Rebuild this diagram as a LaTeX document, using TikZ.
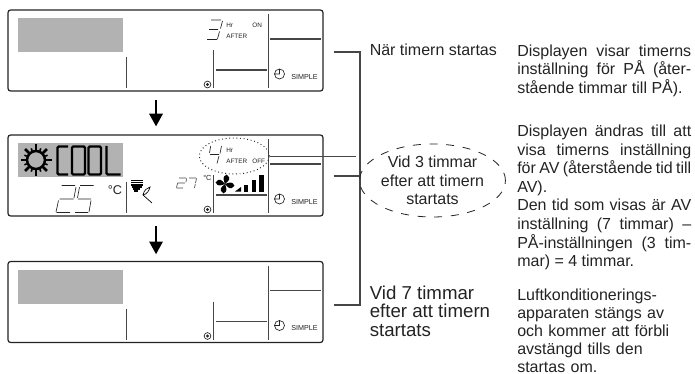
\documentclass[tikz,border=0pt]{standalone}
\usepackage{fontspec}
\setmainfont{Liberation Sans}
\usetikzlibrary{arrows.meta,positioning,calc,shapes.geometric}
\definecolor{TextoOscuro}{RGB}{35,35,35}
\definecolor{LineaPanel}{RGB}{70,70,70}
\definecolor{GrisPantalla}{RGB}{178,178,178}

\begin{document}
\begin{tikzpicture}[x=0.75pt,y=-0.75pt,
    panel/.style={draw=TextoOscuro, rounded corners=2pt, line width=0.9pt, minimum width=236.25pt,
      minimum height=60.75pt, inner sep=0pt},
    bar/.style={draw=LineaPanel, line width=0.8pt},
    seg/.style={draw=TextoOscuro, line width=0.5pt},
    lcd/.style={inner sep=0pt, anchor=west, text=TextoOscuro},
    lead/.style={inner sep=0pt, anchor=west, align=left, text=TextoOscuro, font=\fontsize{14}{13.6}\selectfont},
    note/.style={inner sep=0pt, anchor=north west, text width=130.5pt, align=justify, text=TextoOscuro,
      font=\fontsize{12}{13.9}\selectfont},
    wire/.style={draw=LineaPanel, line width=0.9pt},
    drop/.style={draw=black, line width=1.6pt, -{Triangle[length=9.5pt,width=10pt]}}
  ]
    \useasboundingbox (0,0) rectangle (695,374);

    % the three panels
    \foreach \p/\y in {1/0,2/125,3/251.5}{
      \begin{scope}[shift={(0,\y)}]
        \node[panel] (p\p) at (165.5,50.5) {};
        \fill[GrisPantalla] (18,18) rectangle (123,52);
        \draw[bar] (126.5,57) -- (126.5,88);
        \draw[bar] (213.5,50) -- (213.5,88);
        \draw[bar] (268.5,14) -- (268.5,88);
        \draw[bar] (216,70) -- (267,70);
        \draw[bar] (270,39) -- (321,39);
        \draw[draw=TextoOscuro, line width=0.5pt] (279.5,74) circle (5) (279.5,69.5) -- (279.5,74) -- (275,74);
        \node[lcd, font=\fontsize{5.4}{6}\selectfont] (simple\p) at (291,77) {SIMPLE};
        \draw[draw=TextoOscuro, line width=0.5pt] (207.5,84.5) circle (3.4);
        \fill[TextoOscuro] (207.5,84.5) circle (1.7);
      \end{scope}
    }

    % panel 1 timer
    \draw[seg] (211,20) -- (221,20) (209,29.5) -- (218,29.5) (207,39.5) -- (217,39.5)
      (222.5,21) -- (220.5,28.5) (219.5,31.5) -- (217.5,39);
    \node[lcd, font=\fontsize{4.8}{6}\selectfont] (hrA) at (226,25.5) {Hr};
    \node[lcd, font=\fontsize{4.8}{6}\selectfont] (onA) at (252,25.5) {ON};
    \node[lcd, font=\fontsize{4.8}{6}\selectfont] (afterA) at (226,36.5) {AFTER};

    % panel 2 timer
    \draw[seg] (210.7,146) -- (209.5,153) (210,154.5) -- (219,154.5)
      (221.5,146) -- (220,153.5) (219,156) -- (217,163.5);
    \node[lcd, font=\fontsize{4.8}{6}\selectfont] (hrB) at (226,150.5) {Hr};
    \node[lcd, font=\fontsize{4.8}{6}\selectfont] (afterB) at (226,161.5) {AFTER};
    \node[lcd, font=\fontsize{4.8}{6}\selectfont] (offB) at (252,161.5) {OFF};
    \node[ellipse, draw=TextoOscuro, dotted, line width=0.7pt, minimum width=52.5pt, minimum height=27pt,
      inner sep=0pt] (timerDot) at (234.3,156) {};

    % panel 2 mode
    \foreach \a in {0,45,...,315}{
      \draw[black, line width=2pt] ($(36,160)+(\a:10)$) -- ($(36,160)+(\a:15.5)$);
    }
    \foreach \a in {22.5,67.5,...,337.5}{
      \draw[black, line width=1.2pt] ($(36,160)+(\a:10)$) -- ($(36,160)+(\a:12.5)$);
    }
    \draw[black, line width=1.9pt] (36,160) circle (9);
    \draw[black, line width=1.7pt, rounded corners=1pt]
      (68,146.5) -- (57.5,146.5) -- (57.5,174.5) -- (68,174.5)
      (72,146.5) rectangle (85,174.5)
      (88.5,146.5) rectangle (101,174.5)
      (106.5,146) -- (106.5,174.5) -- (120.5,174.5);

    % panel 2 temperatures
    \draw[seg] (61.5,185.5) -- (75,185.5) (76,187) -- (74,198) (59.5,199) -- (73.5,199)
      (58.5,200.5) -- (56,212) (56.5,212.5) -- (70,212.5)
      (80,185.5) -- (93.5,185.5) (79.5,187) -- (77.5,198) (78,199) -- (91,199)
      (91,200.5) -- (89,212) (75,212.5) -- (88,212.5);
    \draw[seg, draw=LineaPanel] (179,178) -- (186,178) (186.5,178.5) -- (186,182) (177.5,183) -- (185,183)
      (177.5,183.5) -- (176.5,187.5) (176.5,188) -- (183,188)
      (189,178) -- (196,178) (196.5,178.5) -- (195.5,183) (195.3,184) -- (194.5,188);
    \node[lcd, font=\fontsize{9.5}{10}\selectfont] (degBig) at (107.5,190) {°C};
    \node[lcd, font=\fontsize{5.5}{6}\selectfont] (degSmall) at (203,178) {°C};

    % panel 2 vane and fan
    \draw[black, line width=0.9pt] (131,180.5) -- (143,180.5) (131,182.7) -- (143,182.7) (131,184.9) -- (143,184.9)
      (131.5,187) -- (142,187) (132.5,189) -- (140,189) (134,191) -- (138,191);
    \draw[black, line width=0.5pt] (143,195) .. controls (144,190) and (147,188) .. (150,187)
      .. controls (149,191) and (147,194) .. (143,195) -- (152,203);
    \foreach \a in {10,100,190,280}{
      \fill[black] (225,184) .. controls ($(225,184)+(\a-30:5)$) and ($(225,184)+(\a-30:8)$) .. ($(225,184)+(\a:9.5)$)
        .. controls ($(225,184)+(\a+40:9)$) and ($(225,184)+(\a+40:5)$) .. (225,184);
    }
    \fill[black] (235,191.5) -- (241,187) -- (241,191.5) -- cycle;
    \fill[black] (244,185) rectangle (247.5,191.5);
    \fill[black] (252,180) rectangle (255.5,191.5);
    \fill[black] (259,175) rectangle (264,191.5);

    % arrows between panels
    \draw[drop, shorten <=6pt, shorten >=6pt] ([xshift=-7.1pt]p1.south) -- ([xshift=-7.1pt]p2.north);
    \draw[drop, shorten <=7pt, shorten >=5pt] ([xshift=-7.1pt]p2.south) -- ([xshift=-7.1pt]p3.north);

    % bracket
    \coordinate (tickTop) at (333.5,52);
    \coordinate (tickMid) at (333.5,176);
    \coordinate (tickBot) at (333.5,305);
    \coordinate (brTop) at (360,52);
    \coordinate (brMid) at (360,176);
    \coordinate (brBot) at (360,305);
    \coordinate (dotEnd) at (356,156.5);
    \draw[wire] (tickTop) -- (brTop) -- (brBot) -- (tickBot);
    \draw[wire] (tickMid) -- (brMid);
    \draw[wire] (timerDot.east |- dotEnd) -- (dotEnd);

    % captions
    \node[lead, font=\fontsize{12}{13.6}\selectfont] (capStart) at (369.5,50) {När timern startas};
    \node[ellipse, draw=TextoOscuro, dash pattern=on 6pt off 6.5pt, line width=0.6pt, minimum width=99pt,
      minimum height=54.75pt, inner sep=0pt, align=center, text=TextoOscuro,
      font=\fontsize{12}{13.9}\selectfont] (capThree) at (432.5,180.5) {Vid 3 timmar\\efter att timern\\startats};
    \node[lead, anchor=north west] (capSeven) at (369.5,286) {Vid 7 timmar\\efter att timern\\startats};

    % notes
    \node[note] (noteA) at (517,44.5) {Displayen visar timerns\linebreak inställning för PÅ (åter-\linebreak stående timmar till PÅ).};
    \node[note] (noteB) at (517,125) {Displayen ändras till att\linebreak visa timerns inställning\linebreak för AV (återstående tid till\linebreak AV).\newline
      Den tid som visas är AV\linebreak inställning (7 timmar) –\linebreak PÅ-inställningen (3 tim-\linebreak mar) = 4 timmar.};
    \node[note, align=left, font=\fontsize{12}{13.55}\selectfont] (noteC) at (517,288.5) {Luftkonditionerings-\\apparaten stängs av\\och kommer att förbli\\avstängd tills den\\startas om.};
  \end{tikzpicture}
\end{document}
